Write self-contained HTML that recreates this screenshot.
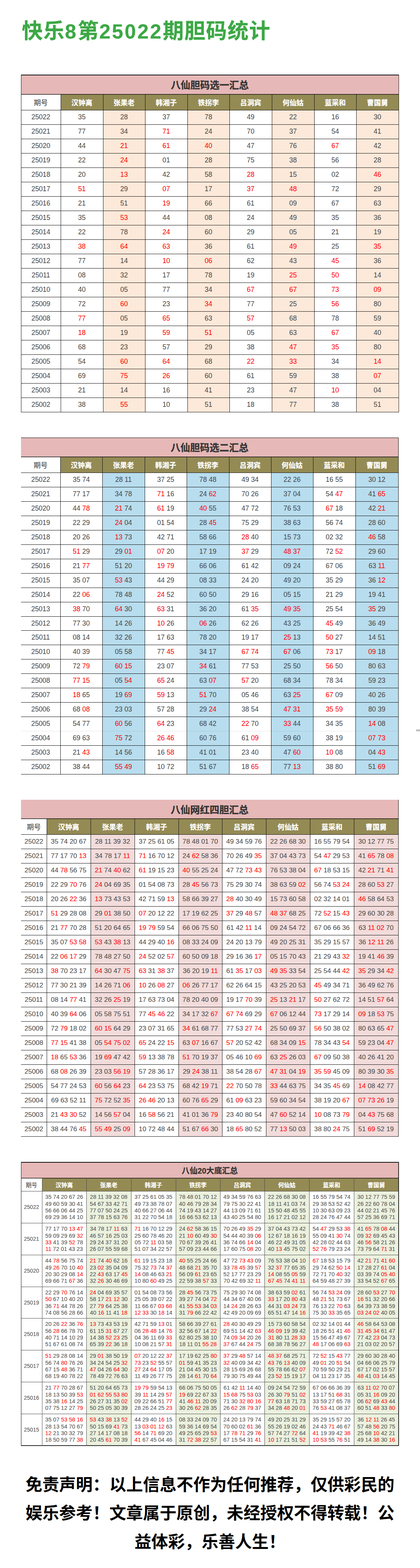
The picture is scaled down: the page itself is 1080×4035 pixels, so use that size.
<!DOCTYPE html>
<html lang="zh-CN"><head><meta charset="utf-8"><title>快乐8第25022期胆码统计</title>
<style>
html,body{margin:0;padding:0;background:#fff;}
body{width:1080px;height:4035px;position:relative;overflow:hidden;font-family:"Liberation Sans","Noto Sans CJK SC",sans-serif;color:#333;}
.title{-webkit-text-stroke:0.3px #3ca845;position:absolute;left:56px;top:40px;height:80px;width:700px;line-height:80px;font-size:54px;font-weight:bold;color:#3ca845;letter-spacing:1.5px;white-space:nowrap;}
.title b{font-size:52px;letter-spacing:3.75px;top:1px;}
.title>*{position:absolute;top:0;}
.tt .a{position:absolute;top:0;padding-top:inherit;}
.tb{position:absolute;}
.tb div{position:absolute;box-sizing:border-box;}
.tt{background:#e6b8b7;-webkit-text-stroke:0.4px #333;padding-top:2px;text-align:center;font-weight:bold;font-size:25px;color:#333;}
.hd{padding-top:1.5px;background:#948a54;color:#fff;-webkit-text-stroke:0.3px #fff;text-align:center;font-weight:bold;font-size:18px;}
.hd0{padding-top:1.5px;background:#fff;text-align:center;font-size:18px;color:#333;}
.c{display:flex;align-items:center;justify-content:center;font-size:17.5px;color:#474747;white-space:nowrap;}
.c i{font-style:normal;color:#ff0000;}
.hl{left:0;height:1px;background:#111;}
.vl{width:1px;background:#111;}
.t3 .c{font-size:17.3px;}
.t4 .tt{font-size:20.3px;-webkit-text-stroke-width:0.3px;padding-top:3px;}
.t4 .hd,.t4 .hd0{font-size:14.8px;padding-top:2px;}
.t4 .hd{-webkit-text-stroke-width:0.25px;}
.t4 .c{font-size:14.6px;line-height:17.3px;text-align:center;padding-top:2px;}
.t4 .p{font-size:14px;}
.foot{position:absolute;left:0;top:3784.5px;width:1080px;text-align:center;font-size:43.12px;font-weight:bold;color:#000;line-height:73.5px;white-space:nowrap;}
.sb{position:absolute;left:1070px;top:1877px;width:10px;height:5px;background:#c0c0c0;}
.t4 .in{background:#4d4d4d;}
.t4 .c{color:#4a4a4a;}
</style></head>
<body>
<div class="title"><span style="left:0">快乐</span><b style="left:111px">8</b><span style="left:143.67px">第</span><b style="left:199.17px">25022</b><span style="left:362.53px">期胆码统计</span></div>
<div class="tb t1" style="left:54px;top:192px;width:972px;height:869px">
<div class="tt" style="left:0;top:0;width:971px;height:50px;line-height:50px"><span>八仙胆码选一汇总</span></div>
<div class="hd0" style="left:0;top:50px;width:102px;height:41px;line-height:42px"><span>期号</span></div>
<div class="hd" style="left:102px;top:50px;width:109px;height:41px;line-height:42px"><span>汉钟离</span></div>
<div class="hd" style="left:211px;top:50px;width:108px;height:41px;line-height:42px"><span>张果老</span></div>
<div class="hd" style="left:319px;top:50px;width:109px;height:41px;line-height:42px"><span>韩湘子</span></div>
<div class="hd" style="left:428px;top:50px;width:108px;height:41px;line-height:42px"><span>铁拐李</span></div>
<div class="hd" style="left:536px;top:50px;width:109px;height:41px;line-height:42px"><span>吕洞宾</span></div>
<div class="hd" style="left:645px;top:50px;width:109px;height:41px;line-height:42px"><span>何仙姑</span></div>
<div class="hd" style="left:754px;top:50px;width:108px;height:41px;line-height:42px"><span>蓝采和</span></div>
<div class="hd" style="left:862px;top:50px;width:109px;height:41px;line-height:42px"><span>曹国舅</span></div>
<div class="st" style="left:211px;top:91px;width:108px;height:777px;background:#fde9d9"></div>
<div class="st" style="left:428px;top:91px;width:108px;height:777px;background:#fde9d9"></div>
<div class="st" style="left:645px;top:91px;width:109px;height:777px;background:#fde9d9"></div>
<div class="st" style="left:862px;top:91px;width:109px;height:777px;background:#fde9d9"></div>
<div class="c p" style="left:0;top:91px;width:102px;height:37px"><span>25022</span></div>
<div class="c" style="left:102px;top:91px;width:109px;height:37px"><span>35</span></div>
<div class="c" style="left:211px;top:91px;width:108px;height:37px"><span>28</span></div>
<div class="c" style="left:319px;top:91px;width:109px;height:37px"><span>37</span></div>
<div class="c" style="left:428px;top:91px;width:108px;height:37px"><span>78</span></div>
<div class="c" style="left:536px;top:91px;width:109px;height:37px"><span>49</span></div>
<div class="c" style="left:645px;top:91px;width:109px;height:37px"><span>22</span></div>
<div class="c" style="left:754px;top:91px;width:108px;height:37px"><span>16</span></div>
<div class="c" style="left:862px;top:91px;width:109px;height:37px"><span>30</span></div>
<div class="c p" style="left:0;top:128px;width:102px;height:37px"><span>25021</span></div>
<div class="c" style="left:102px;top:128px;width:109px;height:37px"><span>77</span></div>
<div class="c" style="left:211px;top:128px;width:108px;height:37px"><span>34</span></div>
<div class="c" style="left:319px;top:128px;width:109px;height:37px"><span><i>71</i></span></div>
<div class="c" style="left:428px;top:128px;width:108px;height:37px"><span>24</span></div>
<div class="c" style="left:536px;top:128px;width:109px;height:37px"><span>70</span></div>
<div class="c" style="left:645px;top:128px;width:109px;height:37px"><span>37</span></div>
<div class="c" style="left:754px;top:128px;width:108px;height:37px"><span>54</span></div>
<div class="c" style="left:862px;top:128px;width:109px;height:37px"><span>41</span></div>
<div class="c p" style="left:0;top:165px;width:102px;height:37px"><span>25020</span></div>
<div class="c" style="left:102px;top:165px;width:109px;height:37px"><span>44</span></div>
<div class="c" style="left:211px;top:165px;width:108px;height:37px"><span><i>21</i></span></div>
<div class="c" style="left:319px;top:165px;width:109px;height:37px"><span><i>61</i></span></div>
<div class="c" style="left:428px;top:165px;width:108px;height:37px"><span><i>40</i></span></div>
<div class="c" style="left:536px;top:165px;width:109px;height:37px"><span>47</span></div>
<div class="c" style="left:645px;top:165px;width:109px;height:37px"><span>76</span></div>
<div class="c" style="left:754px;top:165px;width:108px;height:37px"><span><i>67</i></span></div>
<div class="c" style="left:862px;top:165px;width:109px;height:37px"><span>42</span></div>
<div class="c p" style="left:0;top:202px;width:102px;height:37px"><span>25019</span></div>
<div class="c" style="left:102px;top:202px;width:109px;height:37px"><span>22</span></div>
<div class="c" style="left:211px;top:202px;width:108px;height:37px"><span><i>24</i></span></div>
<div class="c" style="left:319px;top:202px;width:109px;height:37px"><span>01</span></div>
<div class="c" style="left:428px;top:202px;width:108px;height:37px"><span>28</span></div>
<div class="c" style="left:536px;top:202px;width:109px;height:37px"><span>75</span></div>
<div class="c" style="left:645px;top:202px;width:109px;height:37px"><span>38</span></div>
<div class="c" style="left:754px;top:202px;width:108px;height:37px"><span>56</span></div>
<div class="c" style="left:862px;top:202px;width:109px;height:37px"><span>28</span></div>
<div class="c p" style="left:0;top:239px;width:102px;height:37px"><span>25018</span></div>
<div class="c" style="left:102px;top:239px;width:109px;height:37px"><span>20</span></div>
<div class="c" style="left:211px;top:239px;width:108px;height:37px"><span><i>13</i></span></div>
<div class="c" style="left:319px;top:239px;width:109px;height:37px"><span>42</span></div>
<div class="c" style="left:428px;top:239px;width:108px;height:37px"><span>58</span></div>
<div class="c" style="left:536px;top:239px;width:109px;height:37px"><span><i>28</i></span></div>
<div class="c" style="left:645px;top:239px;width:109px;height:37px"><span>15</span></div>
<div class="c" style="left:754px;top:239px;width:108px;height:37px"><span>02</span></div>
<div class="c" style="left:862px;top:239px;width:109px;height:37px"><span><i>46</i></span></div>
<div class="c p" style="left:0;top:276px;width:102px;height:37px"><span>25017</span></div>
<div class="c" style="left:102px;top:276px;width:109px;height:37px"><span><i>51</i></span></div>
<div class="c" style="left:211px;top:276px;width:108px;height:37px"><span>29</span></div>
<div class="c" style="left:319px;top:276px;width:109px;height:37px"><span><i>07</i></span></div>
<div class="c" style="left:428px;top:276px;width:108px;height:37px"><span>17</span></div>
<div class="c" style="left:536px;top:276px;width:109px;height:37px"><span><i>37</i></span></div>
<div class="c" style="left:645px;top:276px;width:109px;height:37px"><span><i>48</i></span></div>
<div class="c" style="left:754px;top:276px;width:108px;height:37px"><span>72</span></div>
<div class="c" style="left:862px;top:276px;width:109px;height:37px"><span>29</span></div>
<div class="c p" style="left:0;top:313px;width:102px;height:37px"><span>25016</span></div>
<div class="c" style="left:102px;top:313px;width:109px;height:37px"><span>21</span></div>
<div class="c" style="left:211px;top:313px;width:108px;height:37px"><span>51</span></div>
<div class="c" style="left:319px;top:313px;width:109px;height:37px"><span><i>19</i></span></div>
<div class="c" style="left:428px;top:313px;width:108px;height:37px"><span>66</span></div>
<div class="c" style="left:536px;top:313px;width:109px;height:37px"><span>61</span></div>
<div class="c" style="left:645px;top:313px;width:109px;height:37px"><span>09</span></div>
<div class="c" style="left:754px;top:313px;width:108px;height:37px"><span>67</span></div>
<div class="c" style="left:862px;top:313px;width:109px;height:37px"><span>63</span></div>
<div class="c p" style="left:0;top:350px;width:102px;height:37px"><span>25015</span></div>
<div class="c" style="left:102px;top:350px;width:109px;height:37px"><span>35</span></div>
<div class="c" style="left:211px;top:350px;width:108px;height:37px"><span><i>53</i></span></div>
<div class="c" style="left:319px;top:350px;width:109px;height:37px"><span>44</span></div>
<div class="c" style="left:428px;top:350px;width:108px;height:37px"><span>08</span></div>
<div class="c" style="left:536px;top:350px;width:109px;height:37px"><span>24</span></div>
<div class="c" style="left:645px;top:350px;width:109px;height:37px"><span>49</span></div>
<div class="c" style="left:754px;top:350px;width:108px;height:37px"><span>35</span></div>
<div class="c" style="left:862px;top:350px;width:109px;height:37px"><span>36</span></div>
<div class="c p" style="left:0;top:387px;width:102px;height:37px"><span>25014</span></div>
<div class="c" style="left:102px;top:387px;width:109px;height:37px"><span>22</span></div>
<div class="c" style="left:211px;top:387px;width:108px;height:37px"><span>78</span></div>
<div class="c" style="left:319px;top:387px;width:109px;height:37px"><span><i>24</i></span></div>
<div class="c" style="left:428px;top:387px;width:108px;height:37px"><span>60</span></div>
<div class="c" style="left:536px;top:387px;width:109px;height:37px"><span>29</span></div>
<div class="c" style="left:645px;top:387px;width:109px;height:37px"><span>05</span></div>
<div class="c" style="left:754px;top:387px;width:108px;height:37px"><span>21</span></div>
<div class="c" style="left:862px;top:387px;width:109px;height:37px"><span>19</span></div>
<div class="c p" style="left:0;top:424px;width:102px;height:37px"><span>25013</span></div>
<div class="c" style="left:102px;top:424px;width:109px;height:37px"><span><i>38</i></span></div>
<div class="c" style="left:211px;top:424px;width:108px;height:37px"><span><i>64</i></span></div>
<div class="c" style="left:319px;top:424px;width:109px;height:37px"><span><i>63</i></span></div>
<div class="c" style="left:428px;top:424px;width:108px;height:37px"><span>36</span></div>
<div class="c" style="left:536px;top:424px;width:109px;height:37px"><span>61</span></div>
<div class="c" style="left:645px;top:424px;width:109px;height:37px"><span><i>49</i></span></div>
<div class="c" style="left:754px;top:424px;width:108px;height:37px"><span>25</span></div>
<div class="c" style="left:862px;top:424px;width:109px;height:37px"><span><i>35</i></span></div>
<div class="c p" style="left:0;top:461px;width:102px;height:37px"><span>25012</span></div>
<div class="c" style="left:102px;top:461px;width:109px;height:37px"><span>77</span></div>
<div class="c" style="left:211px;top:461px;width:108px;height:37px"><span>14</span></div>
<div class="c" style="left:319px;top:461px;width:109px;height:37px"><span><i>10</i></span></div>
<div class="c" style="left:428px;top:461px;width:108px;height:37px"><span><i>06</i></span></div>
<div class="c" style="left:536px;top:461px;width:109px;height:37px"><span>62</span></div>
<div class="c" style="left:645px;top:461px;width:109px;height:37px"><span>43</span></div>
<div class="c" style="left:754px;top:461px;width:108px;height:37px"><span><i>45</i></span></div>
<div class="c" style="left:862px;top:461px;width:109px;height:37px"><span>36</span></div>
<div class="c p" style="left:0;top:498px;width:102px;height:37px"><span>25011</span></div>
<div class="c" style="left:102px;top:498px;width:109px;height:37px"><span>08</span></div>
<div class="c" style="left:211px;top:498px;width:108px;height:37px"><span>32</span></div>
<div class="c" style="left:319px;top:498px;width:109px;height:37px"><span>17</span></div>
<div class="c" style="left:428px;top:498px;width:108px;height:37px"><span>78</span></div>
<div class="c" style="left:536px;top:498px;width:109px;height:37px"><span>19</span></div>
<div class="c" style="left:645px;top:498px;width:109px;height:37px"><span><i>25</i></span></div>
<div class="c" style="left:754px;top:498px;width:108px;height:37px"><span><i>50</i></span></div>
<div class="c" style="left:862px;top:498px;width:109px;height:37px"><span>14</span></div>
<div class="c p" style="left:0;top:535px;width:102px;height:37px"><span>25010</span></div>
<div class="c" style="left:102px;top:535px;width:109px;height:37px"><span>40</span></div>
<div class="c" style="left:211px;top:535px;width:108px;height:37px"><span>05</span></div>
<div class="c" style="left:319px;top:535px;width:109px;height:37px"><span>77</span></div>
<div class="c" style="left:428px;top:535px;width:108px;height:37px"><span>34</span></div>
<div class="c" style="left:536px;top:535px;width:109px;height:37px"><span><i>67</i></span></div>
<div class="c" style="left:645px;top:535px;width:109px;height:37px"><span><i>67</i></span></div>
<div class="c" style="left:754px;top:535px;width:108px;height:37px"><span><i>73</i></span></div>
<div class="c" style="left:862px;top:535px;width:109px;height:37px"><span><i>09</i></span></div>
<div class="c p" style="left:0;top:572px;width:102px;height:37px"><span>25009</span></div>
<div class="c" style="left:102px;top:572px;width:109px;height:37px"><span>72</span></div>
<div class="c" style="left:211px;top:572px;width:108px;height:37px"><span><i>60</i></span></div>
<div class="c" style="left:319px;top:572px;width:109px;height:37px"><span>23</span></div>
<div class="c" style="left:428px;top:572px;width:108px;height:37px"><span><i>34</i></span></div>
<div class="c" style="left:536px;top:572px;width:109px;height:37px"><span>77</span></div>
<div class="c" style="left:645px;top:572px;width:109px;height:37px"><span>25</span></div>
<div class="c" style="left:754px;top:572px;width:108px;height:37px"><span><i>56</i></span></div>
<div class="c" style="left:862px;top:572px;width:109px;height:37px"><span>80</span></div>
<div class="c p" style="left:0;top:609px;width:102px;height:37px"><span>25008</span></div>
<div class="c" style="left:102px;top:609px;width:109px;height:37px"><span><i>77</i></span></div>
<div class="c" style="left:211px;top:609px;width:108px;height:37px"><span>05</span></div>
<div class="c" style="left:319px;top:609px;width:109px;height:37px"><span><i>65</i></span></div>
<div class="c" style="left:428px;top:609px;width:108px;height:37px"><span>63</span></div>
<div class="c" style="left:536px;top:609px;width:109px;height:37px"><span><i>57</i></span></div>
<div class="c" style="left:645px;top:609px;width:109px;height:37px"><span>68</span></div>
<div class="c" style="left:754px;top:609px;width:108px;height:37px"><span>78</span></div>
<div class="c" style="left:862px;top:609px;width:109px;height:37px"><span>59</span></div>
<div class="c p" style="left:0;top:646px;width:102px;height:37px"><span>25007</span></div>
<div class="c" style="left:102px;top:646px;width:109px;height:37px"><span><i>18</i></span></div>
<div class="c" style="left:211px;top:646px;width:108px;height:37px"><span>19</span></div>
<div class="c" style="left:319px;top:646px;width:109px;height:37px"><span><i>59</i></span></div>
<div class="c" style="left:428px;top:646px;width:108px;height:37px"><span><i>51</i></span></div>
<div class="c" style="left:536px;top:646px;width:109px;height:37px"><span>05</span></div>
<div class="c" style="left:645px;top:646px;width:109px;height:37px"><span>63</span></div>
<div class="c" style="left:754px;top:646px;width:108px;height:37px"><span><i>67</i></span></div>
<div class="c" style="left:862px;top:646px;width:109px;height:37px"><span>40</span></div>
<div class="c p" style="left:0;top:683px;width:102px;height:37px"><span>25006</span></div>
<div class="c" style="left:102px;top:683px;width:109px;height:37px"><span>68</span></div>
<div class="c" style="left:211px;top:683px;width:108px;height:37px"><span>23</span></div>
<div class="c" style="left:319px;top:683px;width:109px;height:37px"><span>57</span></div>
<div class="c" style="left:428px;top:683px;width:108px;height:37px"><span>29</span></div>
<div class="c" style="left:536px;top:683px;width:109px;height:37px"><span>38</span></div>
<div class="c" style="left:645px;top:683px;width:109px;height:37px"><span><i>47</i></span></div>
<div class="c" style="left:754px;top:683px;width:108px;height:37px"><span><i>35</i></span></div>
<div class="c" style="left:862px;top:683px;width:109px;height:37px"><span>80</span></div>
<div class="c p" style="left:0;top:720px;width:102px;height:37px"><span>25005</span></div>
<div class="c" style="left:102px;top:720px;width:109px;height:37px"><span>54</span></div>
<div class="c" style="left:211px;top:720px;width:108px;height:37px"><span><i>60</i></span></div>
<div class="c" style="left:319px;top:720px;width:109px;height:37px"><span><i>64</i></span></div>
<div class="c" style="left:428px;top:720px;width:108px;height:37px"><span>68</span></div>
<div class="c" style="left:536px;top:720px;width:109px;height:37px"><span><i>22</i></span></div>
<div class="c" style="left:645px;top:720px;width:109px;height:37px"><span><i>33</i></span></div>
<div class="c" style="left:754px;top:720px;width:108px;height:37px"><span>34</span></div>
<div class="c" style="left:862px;top:720px;width:109px;height:37px"><span><i>14</i></span></div>
<div class="c p" style="left:0;top:757px;width:102px;height:37px"><span>25004</span></div>
<div class="c" style="left:102px;top:757px;width:109px;height:37px"><span>69</span></div>
<div class="c" style="left:211px;top:757px;width:108px;height:37px"><span><i>75</i></span></div>
<div class="c" style="left:319px;top:757px;width:109px;height:37px"><span><i>26</i></span></div>
<div class="c" style="left:428px;top:757px;width:108px;height:37px"><span>60</span></div>
<div class="c" style="left:536px;top:757px;width:109px;height:37px"><span>61</span></div>
<div class="c" style="left:645px;top:757px;width:109px;height:37px"><span>59</span></div>
<div class="c" style="left:754px;top:757px;width:108px;height:37px"><span>38</span></div>
<div class="c" style="left:862px;top:757px;width:109px;height:37px"><span><i>07</i></span></div>
<div class="c p" style="left:0;top:794px;width:102px;height:37px"><span>25003</span></div>
<div class="c" style="left:102px;top:794px;width:109px;height:37px"><span>21</span></div>
<div class="c" style="left:211px;top:794px;width:108px;height:37px"><span>14</span></div>
<div class="c" style="left:319px;top:794px;width:109px;height:37px"><span>16</span></div>
<div class="c" style="left:428px;top:794px;width:108px;height:37px"><span>41</span></div>
<div class="c" style="left:536px;top:794px;width:109px;height:37px"><span>23</span></div>
<div class="c" style="left:645px;top:794px;width:109px;height:37px"><span>47</span></div>
<div class="c" style="left:754px;top:794px;width:108px;height:37px"><span><i>10</i></span></div>
<div class="c" style="left:862px;top:794px;width:109px;height:37px"><span>04</span></div>
<div class="c p" style="left:0;top:831px;width:102px;height:37px"><span>25002</span></div>
<div class="c" style="left:102px;top:831px;width:109px;height:37px"><span>38</span></div>
<div class="c" style="left:211px;top:831px;width:108px;height:37px"><span><i>55</i></span></div>
<div class="c" style="left:319px;top:831px;width:109px;height:37px"><span>10</span></div>
<div class="c" style="left:428px;top:831px;width:108px;height:37px"><span>51</span></div>
<div class="c" style="left:536px;top:831px;width:109px;height:37px"><span>18</span></div>
<div class="c" style="left:645px;top:831px;width:109px;height:37px"><span>77</span></div>
<div class="c" style="left:754px;top:831px;width:108px;height:37px"><span>38</span></div>
<div class="c" style="left:862px;top:831px;width:109px;height:37px"><span>51</span></div>
<div class="hl" style="top:0px;width:972px;height:2px"></div>
<div class="hl" style="top:50px;width:972px;box-shadow:0 1px 0 rgba(0,0,0,0.4)"></div>
<div class="hl in" style="top:91px;width:972px"></div>
<div class="hl in" style="top:128px;width:972px"></div>
<div class="hl in" style="top:165px;width:972px"></div>
<div class="hl in" style="top:202px;width:972px"></div>
<div class="hl in" style="top:239px;width:972px"></div>
<div class="hl in" style="top:276px;width:972px"></div>
<div class="hl in" style="top:313px;width:972px"></div>
<div class="hl in" style="top:350px;width:972px"></div>
<div class="hl in" style="top:387px;width:972px"></div>
<div class="hl in" style="top:424px;width:972px"></div>
<div class="hl in" style="top:461px;width:972px"></div>
<div class="hl in" style="top:498px;width:972px"></div>
<div class="hl in" style="top:535px;width:972px"></div>
<div class="hl in" style="top:572px;width:972px"></div>
<div class="hl in" style="top:609px;width:972px"></div>
<div class="hl in" style="top:646px;width:972px"></div>
<div class="hl in" style="top:683px;width:972px"></div>
<div class="hl in" style="top:720px;width:972px"></div>
<div class="hl in" style="top:757px;width:972px"></div>
<div class="hl in" style="top:794px;width:972px"></div>
<div class="hl in" style="top:831px;width:972px"></div>
<div class="hl" style="top:868px;width:972px"></div>
<div class="vl" style="left:0;top:0;height:869px"></div>
<div class="vl in" style="left:102px;top:50px;height:819px"></div>
<div class="vl in" style="left:211px;top:50px;height:819px"></div>
<div class="vl in" style="left:319px;top:50px;height:819px"></div>
<div class="vl in" style="left:428px;top:50px;height:819px"></div>
<div class="vl in" style="left:536px;top:50px;height:819px"></div>
<div class="vl in" style="left:645px;top:50px;height:819px"></div>
<div class="vl in" style="left:754px;top:50px;height:819px"></div>
<div class="vl in" style="left:862px;top:50px;height:819px"></div>
<div class="vl" style="left:971px;top:0;height:869px"></div>
</div>
<div class="tb t2" style="left:54px;top:1126px;width:971px;height:867px">
<div class="tt" style="left:0;top:0;width:970px;height:49px;line-height:49px"><span>八仙胆码选二汇总</span></div>
<div class="hd0" style="left:0;top:49px;width:101px;height:41px;line-height:42px"><span>期号</span></div>
<div class="hd" style="left:101px;top:49px;width:108px;height:41px;line-height:42px"><span>汉钟离</span></div>
<div class="hd" style="left:209px;top:49px;width:109px;height:41px;line-height:42px"><span>张果老</span></div>
<div class="hd" style="left:318px;top:49px;width:108px;height:41px;line-height:42px"><span>韩湘子</span></div>
<div class="hd" style="left:426px;top:49px;width:109px;height:41px;line-height:42px"><span>铁拐李</span></div>
<div class="hd" style="left:535px;top:49px;width:108px;height:41px;line-height:42px"><span>吕洞宾</span></div>
<div class="hd" style="left:643px;top:49px;width:108px;height:41px;line-height:42px"><span>何仙姑</span></div>
<div class="hd" style="left:751px;top:49px;width:109px;height:41px;line-height:42px"><span>蓝采和</span></div>
<div class="hd" style="left:860px;top:49px;width:110px;height:41px;line-height:42px"><span>曹国舅</span></div>
<div class="st" style="left:209px;top:90px;width:109px;height:776px;background:#b8ddee"></div>
<div class="st" style="left:426px;top:90px;width:109px;height:776px;background:#b8ddee"></div>
<div class="st" style="left:643px;top:90px;width:108px;height:776px;background:#b8ddee"></div>
<div class="st" style="left:860px;top:90px;width:110px;height:776px;background:#b8ddee"></div>
<div class="c p" style="left:0;top:90px;width:101px;height:37px"><span>25022</span></div>
<div class="c" style="left:101px;top:90px;width:108px;height:37px"><span>35 74</span></div>
<div class="c" style="left:209px;top:90px;width:109px;height:37px"><span>28 11</span></div>
<div class="c" style="left:318px;top:90px;width:108px;height:37px"><span>37 25</span></div>
<div class="c" style="left:426px;top:90px;width:109px;height:37px"><span>78 48</span></div>
<div class="c" style="left:535px;top:90px;width:108px;height:37px"><span>49 34</span></div>
<div class="c" style="left:643px;top:90px;width:108px;height:37px"><span>22 26</span></div>
<div class="c" style="left:751px;top:90px;width:109px;height:37px"><span>16 55</span></div>
<div class="c" style="left:860px;top:90px;width:110px;height:37px"><span>30 12</span></div>
<div class="c p" style="left:0;top:127px;width:101px;height:37px"><span>25021</span></div>
<div class="c" style="left:101px;top:127px;width:108px;height:37px"><span>77 17</span></div>
<div class="c" style="left:209px;top:127px;width:109px;height:37px"><span>34 78</span></div>
<div class="c" style="left:318px;top:127px;width:108px;height:37px"><span><i>71</i> 16</span></div>
<div class="c" style="left:426px;top:127px;width:109px;height:37px"><span>24 <i>62</i></span></div>
<div class="c" style="left:535px;top:127px;width:108px;height:37px"><span>70 26</span></div>
<div class="c" style="left:643px;top:127px;width:108px;height:37px"><span>37 04</span></div>
<div class="c" style="left:751px;top:127px;width:109px;height:37px"><span>54 <i>47</i></span></div>
<div class="c" style="left:860px;top:127px;width:110px;height:37px"><span>41 <i>65</i></span></div>
<div class="c p" style="left:0;top:164px;width:101px;height:37px"><span>25020</span></div>
<div class="c" style="left:101px;top:164px;width:108px;height:37px"><span>44 <i>78</i></span></div>
<div class="c" style="left:209px;top:164px;width:109px;height:37px"><span><i>21</i> 74</span></div>
<div class="c" style="left:318px;top:164px;width:108px;height:37px"><span><i>61</i> 19</span></div>
<div class="c" style="left:426px;top:164px;width:109px;height:37px"><span><i>40</i> 55</span></div>
<div class="c" style="left:535px;top:164px;width:108px;height:37px"><span>47 72</span></div>
<div class="c" style="left:643px;top:164px;width:108px;height:37px"><span>76 53</span></div>
<div class="c" style="left:751px;top:164px;width:109px;height:37px"><span><i>67</i> 18</span></div>
<div class="c" style="left:860px;top:164px;width:110px;height:37px"><span>42 <i>21</i></span></div>
<div class="c p" style="left:0;top:201px;width:101px;height:37px"><span>25019</span></div>
<div class="c" style="left:101px;top:201px;width:108px;height:37px"><span>22 29</span></div>
<div class="c" style="left:209px;top:201px;width:109px;height:37px"><span><i>24</i> 04</span></div>
<div class="c" style="left:318px;top:201px;width:108px;height:37px"><span>01 54</span></div>
<div class="c" style="left:426px;top:201px;width:109px;height:37px"><span>28 <i>45</i></span></div>
<div class="c" style="left:535px;top:201px;width:108px;height:37px"><span>75 29</span></div>
<div class="c" style="left:643px;top:201px;width:108px;height:37px"><span>38 63</span></div>
<div class="c" style="left:751px;top:201px;width:109px;height:37px"><span>56 74</span></div>
<div class="c" style="left:860px;top:201px;width:110px;height:37px"><span>28 60</span></div>
<div class="c p" style="left:0;top:238px;width:101px;height:37px"><span>25018</span></div>
<div class="c" style="left:101px;top:238px;width:108px;height:37px"><span>20 26</span></div>
<div class="c" style="left:209px;top:238px;width:109px;height:37px"><span><i>13</i> 73</span></div>
<div class="c" style="left:318px;top:238px;width:108px;height:37px"><span>42 71</span></div>
<div class="c" style="left:426px;top:238px;width:109px;height:37px"><span>58 66</span></div>
<div class="c" style="left:535px;top:238px;width:108px;height:37px"><span><i>28</i> 40</span></div>
<div class="c" style="left:643px;top:238px;width:108px;height:37px"><span>15 73</span></div>
<div class="c" style="left:751px;top:238px;width:109px;height:37px"><span>02 32</span></div>
<div class="c" style="left:860px;top:238px;width:110px;height:37px"><span><i>46</i> 58</span></div>
<div class="c p" style="left:0;top:275px;width:101px;height:37px"><span>25017</span></div>
<div class="c" style="left:101px;top:275px;width:108px;height:37px"><span><i>51</i> 29</span></div>
<div class="c" style="left:209px;top:275px;width:109px;height:37px"><span>29 <i>01</i></span></div>
<div class="c" style="left:318px;top:275px;width:108px;height:37px"><span><i>07</i> 20</span></div>
<div class="c" style="left:426px;top:275px;width:109px;height:37px"><span>17 19</span></div>
<div class="c" style="left:535px;top:275px;width:108px;height:37px"><span><i>37</i> 29</span></div>
<div class="c" style="left:643px;top:275px;width:108px;height:37px"><span><i>48</i> <i>37</i></span></div>
<div class="c" style="left:751px;top:275px;width:109px;height:37px"><span>72 <i>52</i></span></div>
<div class="c" style="left:860px;top:275px;width:110px;height:37px"><span>29 60</span></div>
<div class="c p" style="left:0;top:312px;width:101px;height:37px"><span>25016</span></div>
<div class="c" style="left:101px;top:312px;width:108px;height:37px"><span>21 <i>77</i></span></div>
<div class="c" style="left:209px;top:312px;width:109px;height:37px"><span>51 20</span></div>
<div class="c" style="left:318px;top:312px;width:108px;height:37px"><span><i>19</i> <i>79</i></span></div>
<div class="c" style="left:426px;top:312px;width:109px;height:37px"><span>66 06</span></div>
<div class="c" style="left:535px;top:312px;width:108px;height:37px"><span>61 42</span></div>
<div class="c" style="left:643px;top:312px;width:108px;height:37px"><span>09 24</span></div>
<div class="c" style="left:751px;top:312px;width:109px;height:37px"><span>67 06</span></div>
<div class="c" style="left:860px;top:312px;width:110px;height:37px"><span>63 <i>11</i></span></div>
<div class="c p" style="left:0;top:349px;width:101px;height:37px"><span>25015</span></div>
<div class="c" style="left:101px;top:349px;width:108px;height:37px"><span>35 07</span></div>
<div class="c" style="left:209px;top:349px;width:109px;height:37px"><span><i>53</i> 43</span></div>
<div class="c" style="left:318px;top:349px;width:108px;height:37px"><span>44 29</span></div>
<div class="c" style="left:426px;top:349px;width:109px;height:37px"><span>08 33</span></div>
<div class="c" style="left:535px;top:349px;width:108px;height:37px"><span>24 20</span></div>
<div class="c" style="left:643px;top:349px;width:108px;height:37px"><span>49 20</span></div>
<div class="c" style="left:751px;top:349px;width:109px;height:37px"><span>35 29</span></div>
<div class="c" style="left:860px;top:349px;width:110px;height:37px"><span>36 <i>12</i></span></div>
<div class="c p" style="left:0;top:386px;width:101px;height:37px"><span>25014</span></div>
<div class="c" style="left:101px;top:386px;width:108px;height:37px"><span>22 <i>06</i></span></div>
<div class="c" style="left:209px;top:386px;width:109px;height:37px"><span>78 48</span></div>
<div class="c" style="left:318px;top:386px;width:108px;height:37px"><span><i>24</i> 52</span></div>
<div class="c" style="left:426px;top:386px;width:109px;height:37px"><span>60 50</span></div>
<div class="c" style="left:535px;top:386px;width:108px;height:37px"><span>29 16</span></div>
<div class="c" style="left:643px;top:386px;width:108px;height:37px"><span>05 15</span></div>
<div class="c" style="left:751px;top:386px;width:109px;height:37px"><span>21 29</span></div>
<div class="c" style="left:860px;top:386px;width:110px;height:37px"><span>19 41</span></div>
<div class="c p" style="left:0;top:423px;width:101px;height:37px"><span>25013</span></div>
<div class="c" style="left:101px;top:423px;width:108px;height:37px"><span><i>38</i> 70</span></div>
<div class="c" style="left:209px;top:423px;width:109px;height:37px"><span><i>64</i> 30</span></div>
<div class="c" style="left:318px;top:423px;width:108px;height:37px"><span><i>63</i> 31</span></div>
<div class="c" style="left:426px;top:423px;width:109px;height:37px"><span>36 20</span></div>
<div class="c" style="left:535px;top:423px;width:108px;height:37px"><span>61 <i>35</i></span></div>
<div class="c" style="left:643px;top:423px;width:108px;height:37px"><span><i>49</i> <i>35</i></span></div>
<div class="c" style="left:751px;top:423px;width:109px;height:37px"><span>25 54</span></div>
<div class="c" style="left:860px;top:423px;width:110px;height:37px"><span><i>35</i> 29</span></div>
<div class="c p" style="left:0;top:460px;width:101px;height:36px"><span>25012</span></div>
<div class="c" style="left:101px;top:460px;width:108px;height:36px"><span>77 30</span></div>
<div class="c" style="left:209px;top:460px;width:109px;height:36px"><span>14 26</span></div>
<div class="c" style="left:318px;top:460px;width:108px;height:36px"><span><i>10</i> 26</span></div>
<div class="c" style="left:426px;top:460px;width:109px;height:36px"><span><i>06</i> 26</span></div>
<div class="c" style="left:535px;top:460px;width:108px;height:36px"><span>62 26</span></div>
<div class="c" style="left:643px;top:460px;width:108px;height:36px"><span>43 25</span></div>
<div class="c" style="left:751px;top:460px;width:109px;height:36px"><span><i>45</i> 49</span></div>
<div class="c" style="left:860px;top:460px;width:110px;height:36px"><span>36 49</span></div>
<div class="c p" style="left:0;top:496px;width:101px;height:37px"><span>25011</span></div>
<div class="c" style="left:101px;top:496px;width:108px;height:37px"><span>08 14</span></div>
<div class="c" style="left:209px;top:496px;width:109px;height:37px"><span>32 26</span></div>
<div class="c" style="left:318px;top:496px;width:108px;height:37px"><span>17 63</span></div>
<div class="c" style="left:426px;top:496px;width:109px;height:37px"><span>78 20</span></div>
<div class="c" style="left:535px;top:496px;width:108px;height:37px"><span>19 17</span></div>
<div class="c" style="left:643px;top:496px;width:108px;height:37px"><span><i>25</i> 13</span></div>
<div class="c" style="left:751px;top:496px;width:109px;height:37px"><span><i>50</i> 27</span></div>
<div class="c" style="left:860px;top:496px;width:110px;height:37px"><span>14 51</span></div>
<div class="c p" style="left:0;top:533px;width:101px;height:37px"><span>25010</span></div>
<div class="c" style="left:101px;top:533px;width:108px;height:37px"><span>40 39</span></div>
<div class="c" style="left:209px;top:533px;width:109px;height:37px"><span>05 58</span></div>
<div class="c" style="left:318px;top:533px;width:108px;height:37px"><span>77 <i>45</i></span></div>
<div class="c" style="left:426px;top:533px;width:109px;height:37px"><span>34 17</span></div>
<div class="c" style="left:535px;top:533px;width:108px;height:37px"><span><i>67</i> <i>74</i></span></div>
<div class="c" style="left:643px;top:533px;width:108px;height:37px"><span><i>67</i> 06</span></div>
<div class="c" style="left:751px;top:533px;width:109px;height:37px"><span><i>73</i> 17</span></div>
<div class="c" style="left:860px;top:533px;width:110px;height:37px"><span><i>09</i> 18</span></div>
<div class="c p" style="left:0;top:570px;width:101px;height:37px"><span>25009</span></div>
<div class="c" style="left:101px;top:570px;width:108px;height:37px"><span>72 <i>79</i></span></div>
<div class="c" style="left:209px;top:570px;width:109px;height:37px"><span><i>60</i> <i>15</i></span></div>
<div class="c" style="left:318px;top:570px;width:108px;height:37px"><span>23 07</span></div>
<div class="c" style="left:426px;top:570px;width:109px;height:37px"><span><i>34</i> 61</span></div>
<div class="c" style="left:535px;top:570px;width:108px;height:37px"><span>77 53</span></div>
<div class="c" style="left:643px;top:570px;width:108px;height:37px"><span>25 50</span></div>
<div class="c" style="left:751px;top:570px;width:109px;height:37px"><span><i>56</i> 50</span></div>
<div class="c" style="left:860px;top:570px;width:110px;height:37px"><span>80 63</span></div>
<div class="c p" style="left:0;top:607px;width:101px;height:37px"><span>25008</span></div>
<div class="c" style="left:101px;top:607px;width:108px;height:37px"><span><i>77</i> <i>15</i></span></div>
<div class="c" style="left:209px;top:607px;width:109px;height:37px"><span>05 <i>54</i></span></div>
<div class="c" style="left:318px;top:607px;width:108px;height:37px"><span><i>65</i> 24</span></div>
<div class="c" style="left:426px;top:607px;width:109px;height:37px"><span>63 <i>07</i></span></div>
<div class="c" style="left:535px;top:607px;width:108px;height:37px"><span><i>57</i> 20</span></div>
<div class="c" style="left:643px;top:607px;width:108px;height:37px"><span>68 34</span></div>
<div class="c" style="left:751px;top:607px;width:109px;height:37px"><span>78 34</span></div>
<div class="c" style="left:860px;top:607px;width:110px;height:37px"><span>59 23</span></div>
<div class="c p" style="left:0;top:644px;width:101px;height:37px"><span>25007</span></div>
<div class="c" style="left:101px;top:644px;width:108px;height:37px"><span><i>18</i> 65</span></div>
<div class="c" style="left:209px;top:644px;width:109px;height:37px"><span>19 <i>69</i></span></div>
<div class="c" style="left:318px;top:644px;width:108px;height:37px"><span><i>59</i> 13</span></div>
<div class="c" style="left:426px;top:644px;width:109px;height:37px"><span><i>51</i> 70</span></div>
<div class="c" style="left:535px;top:644px;width:108px;height:37px"><span>05 46</span></div>
<div class="c" style="left:643px;top:644px;width:108px;height:37px"><span>63 <i>25</i></span></div>
<div class="c" style="left:751px;top:644px;width:109px;height:37px"><span><i>67</i> 09</span></div>
<div class="c" style="left:860px;top:644px;width:110px;height:37px"><span>40 26</span></div>
<div class="c p" style="left:0;top:681px;width:101px;height:37px"><span>25006</span></div>
<div class="c" style="left:101px;top:681px;width:108px;height:37px"><span>68 <i>08</i></span></div>
<div class="c" style="left:209px;top:681px;width:109px;height:37px"><span>23 03</span></div>
<div class="c" style="left:318px;top:681px;width:108px;height:37px"><span>57 28</span></div>
<div class="c" style="left:426px;top:681px;width:109px;height:37px"><span>29 <i>24</i></span></div>
<div class="c" style="left:535px;top:681px;width:108px;height:37px"><span>38 54</span></div>
<div class="c" style="left:643px;top:681px;width:108px;height:37px"><span><i>47</i> <i>31</i></span></div>
<div class="c" style="left:751px;top:681px;width:109px;height:37px"><span><i>35</i> <i>59</i></span></div>
<div class="c" style="left:860px;top:681px;width:110px;height:37px"><span>80 39</span></div>
<div class="c p" style="left:0;top:718px;width:101px;height:37px"><span>25005</span></div>
<div class="c" style="left:101px;top:718px;width:108px;height:37px"><span>54 77</span></div>
<div class="c" style="left:209px;top:718px;width:109px;height:37px"><span><i>60</i> 56</span></div>
<div class="c" style="left:318px;top:718px;width:108px;height:37px"><span><i>64</i> 23</span></div>
<div class="c" style="left:426px;top:718px;width:109px;height:37px"><span>68 42</span></div>
<div class="c" style="left:535px;top:718px;width:108px;height:37px"><span><i>22</i> 70</span></div>
<div class="c" style="left:643px;top:718px;width:108px;height:37px"><span><i>33</i> 44</span></div>
<div class="c" style="left:751px;top:718px;width:109px;height:37px"><span>34 35</span></div>
<div class="c" style="left:860px;top:718px;width:110px;height:37px"><span><i>14</i> 08</span></div>
<div class="c p" style="left:0;top:755px;width:101px;height:37px"><span>25004</span></div>
<div class="c" style="left:101px;top:755px;width:108px;height:37px"><span>69 63</span></div>
<div class="c" style="left:209px;top:755px;width:109px;height:37px"><span><i>75</i> 72</span></div>
<div class="c" style="left:318px;top:755px;width:108px;height:37px"><span><i>26</i> <i>46</i></span></div>
<div class="c" style="left:426px;top:755px;width:109px;height:37px"><span>60 76</span></div>
<div class="c" style="left:535px;top:755px;width:108px;height:37px"><span>61 <i>09</i></span></div>
<div class="c" style="left:643px;top:755px;width:108px;height:37px"><span>59 60</span></div>
<div class="c" style="left:751px;top:755px;width:109px;height:37px"><span>38 19</span></div>
<div class="c" style="left:860px;top:755px;width:110px;height:37px"><span><i>07</i> <i>73</i></span></div>
<div class="c p" style="left:0;top:792px;width:101px;height:37px"><span>25003</span></div>
<div class="c" style="left:101px;top:792px;width:108px;height:37px"><span>21 <i>43</i></span></div>
<div class="c" style="left:209px;top:792px;width:109px;height:37px"><span>14 56</span></div>
<div class="c" style="left:318px;top:792px;width:108px;height:37px"><span>16 <i>58</i></span></div>
<div class="c" style="left:426px;top:792px;width:109px;height:37px"><span>41 01</span></div>
<div class="c" style="left:535px;top:792px;width:108px;height:37px"><span>23 40</span></div>
<div class="c" style="left:643px;top:792px;width:108px;height:37px"><span>47 <i>60</i></span></div>
<div class="c" style="left:751px;top:792px;width:109px;height:37px"><span><i>10</i> 08</span></div>
<div class="c" style="left:860px;top:792px;width:110px;height:37px"><span>04 <i>43</i></span></div>
<div class="c p" style="left:0;top:829px;width:101px;height:37px"><span>25002</span></div>
<div class="c" style="left:101px;top:829px;width:108px;height:37px"><span>38 44</span></div>
<div class="c" style="left:209px;top:829px;width:109px;height:37px"><span><i>55</i> <i>49</i></span></div>
<div class="c" style="left:318px;top:829px;width:108px;height:37px"><span>10 72</span></div>
<div class="c" style="left:426px;top:829px;width:109px;height:37px"><span>51 67</span></div>
<div class="c" style="left:535px;top:829px;width:108px;height:37px"><span>18 <i>65</i></span></div>
<div class="c" style="left:643px;top:829px;width:108px;height:37px"><span>77 <i>13</i></span></div>
<div class="c" style="left:751px;top:829px;width:109px;height:37px"><span>38 80</span></div>
<div class="c" style="left:860px;top:829px;width:110px;height:37px"><span>51 <i>69</i></span></div>
<div class="hl" style="top:0px;width:971px"></div>
<div class="hl" style="top:49px;width:971px;box-shadow:0 1px 0 rgba(0,0,0,0.4)"></div>
<div class="hl in" style="top:90px;width:971px"></div>
<div class="hl in" style="top:127px;width:971px"></div>
<div class="hl in" style="top:164px;width:971px"></div>
<div class="hl in" style="top:201px;width:971px"></div>
<div class="hl in" style="top:238px;width:971px"></div>
<div class="hl in" style="top:275px;width:971px"></div>
<div class="hl in" style="top:312px;width:971px"></div>
<div class="hl in" style="top:349px;width:971px"></div>
<div class="hl in" style="top:386px;width:971px"></div>
<div class="hl in" style="top:423px;width:971px"></div>
<div class="hl in" style="top:460px;width:971px"></div>
<div class="hl in" style="top:496px;width:971px"></div>
<div class="hl in" style="top:533px;width:971px"></div>
<div class="hl in" style="top:570px;width:971px"></div>
<div class="hl in" style="top:607px;width:971px"></div>
<div class="hl in" style="top:644px;width:971px"></div>
<div class="hl in" style="top:681px;width:971px"></div>
<div class="hl in" style="top:718px;width:971px"></div>
<div class="hl in" style="top:755px;width:971px;background:rgba(0,0,0,0.09)"></div>
<div class="hl in" style="top:792px;width:971px"></div>
<div class="hl in" style="top:829px;width:971px"></div>
<div class="hl" style="top:866px;width:971px"></div>
<div class="vl in" style="left:101px;top:49px;height:818px"></div>
<div class="vl in" style="left:209px;top:49px;height:818px"></div>
<div class="vl in" style="left:318px;top:49px;height:818px"></div>
<div class="vl in" style="left:426px;top:49px;height:818px"></div>
<div class="vl in" style="left:535px;top:49px;height:818px"></div>
<div class="vl in" style="left:643px;top:49px;height:818px"></div>
<div class="vl in" style="left:751px;top:49px;height:818px"></div>
<div class="vl in" style="left:860px;top:49px;height:818px"></div>
<div class="vl" style="left:970px;top:0;height:867px"></div>
</div>
<div class="tb t3" style="left:54px;top:2058px;width:971px;height:867px">
<div class="tt" style="left:0;top:0;width:970px;height:48px;line-height:48px"><span>八仙网红四胆汇总</span></div>
<div class="hd0" style="left:0;top:48px;width:66px;height:41px;line-height:42px"><span>期号</span></div>
<div class="hd" style="left:66px;top:48px;width:113px;height:41px;line-height:42px"><span>汉钟离</span></div>
<div class="hd" style="left:179px;top:48px;width:113px;height:41px;line-height:42px"><span>张果老</span></div>
<div class="hd" style="left:292px;top:48px;width:113px;height:41px;line-height:42px"><span>韩湘子</span></div>
<div class="hd" style="left:405px;top:48px;width:112px;height:41px;line-height:42px"><span>铁拐李</span></div>
<div class="hd" style="left:517px;top:48px;width:113px;height:41px;line-height:42px"><span>吕洞宾</span></div>
<div class="hd" style="left:630px;top:48px;width:113px;height:41px;line-height:42px"><span>何仙姑</span></div>
<div class="hd" style="left:743px;top:48px;width:113px;height:41px;line-height:42px"><span>蓝采和</span></div>
<div class="hd" style="left:856px;top:48px;width:114px;height:41px;line-height:42px"><span>曹国舅</span></div>
<div class="st" style="left:179px;top:89px;width:113px;height:777px;background:#f2dcdb"></div>
<div class="st" style="left:405px;top:89px;width:112px;height:777px;background:#f2dcdb"></div>
<div class="st" style="left:630px;top:89px;width:113px;height:777px;background:#f2dcdb"></div>
<div class="st" style="left:856px;top:89px;width:114px;height:777px;background:#f2dcdb"></div>
<div class="c p" style="left:0;top:89px;width:66px;height:37px"><span>25022</span></div>
<div class="c" style="left:66px;top:89px;width:113px;height:37px"><span>35 74 20 67</span></div>
<div class="c" style="left:179px;top:89px;width:113px;height:37px"><span>28 11 39 32</span></div>
<div class="c" style="left:292px;top:89px;width:113px;height:37px"><span>37 25 61 05</span></div>
<div class="c" style="left:405px;top:89px;width:112px;height:37px"><span>78 48 01 70</span></div>
<div class="c" style="left:517px;top:89px;width:113px;height:37px"><span>49 34 59 76</span></div>
<div class="c" style="left:630px;top:89px;width:113px;height:37px"><span>22 26 68 30</span></div>
<div class="c" style="left:743px;top:89px;width:113px;height:37px"><span>16 55 79 54</span></div>
<div class="c" style="left:856px;top:89px;width:114px;height:37px"><span>30 12 77 75</span></div>
<div class="c p" style="left:0;top:126px;width:66px;height:37px"><span>25021</span></div>
<div class="c" style="left:66px;top:126px;width:113px;height:37px"><span>77 17 70 <i>13</i></span></div>
<div class="c" style="left:179px;top:126px;width:113px;height:37px"><span>34 78 17 <i>11</i></span></div>
<div class="c" style="left:292px;top:126px;width:113px;height:37px"><span><i>71</i> 16 70 12</span></div>
<div class="c" style="left:405px;top:126px;width:112px;height:37px"><span>24 <i>62</i> 58 36</span></div>
<div class="c" style="left:517px;top:126px;width:113px;height:37px"><span>70 26 49 <i>35</i></span></div>
<div class="c" style="left:630px;top:126px;width:113px;height:37px"><span>37 04 43 73</span></div>
<div class="c" style="left:743px;top:126px;width:113px;height:37px"><span>54 <i>47</i> 29 53</span></div>
<div class="c" style="left:856px;top:126px;width:114px;height:37px"><span>41 <i>65</i> 78 <i>08</i></span></div>
<div class="c p" style="left:0;top:163px;width:66px;height:37px"><span>25020</span></div>
<div class="c" style="left:66px;top:163px;width:113px;height:37px"><span>44 <i>78</i> 56 75</span></div>
<div class="c" style="left:179px;top:163px;width:113px;height:37px"><span><i>21</i> 74 <i>40</i> 62</span></div>
<div class="c" style="left:292px;top:163px;width:113px;height:37px"><span><i>61</i> 19 15 23</span></div>
<div class="c" style="left:405px;top:163px;width:112px;height:37px"><span><i>40</i> 55 25 24</span></div>
<div class="c" style="left:517px;top:163px;width:113px;height:37px"><span>47 72 <i>73</i> <i>43</i></span></div>
<div class="c" style="left:630px;top:163px;width:113px;height:37px"><span>76 53 38 04</span></div>
<div class="c" style="left:743px;top:163px;width:113px;height:37px"><span><i>67</i> 18 53 15</span></div>
<div class="c" style="left:856px;top:163px;width:114px;height:37px"><span>42 <i>21</i> 71 <i>41</i></span></div>
<div class="c p" style="left:0;top:200px;width:66px;height:37px"><span>25019</span></div>
<div class="c" style="left:66px;top:200px;width:113px;height:37px"><span>22 29 <i>70</i> 76</span></div>
<div class="c" style="left:179px;top:200px;width:113px;height:37px"><span><i>24</i> 04 69 35</span></div>
<div class="c" style="left:292px;top:200px;width:113px;height:37px"><span>01 54 08 73</span></div>
<div class="c" style="left:405px;top:200px;width:112px;height:37px"><span>28 <i>45</i> 56 73</span></div>
<div class="c" style="left:517px;top:200px;width:113px;height:37px"><span>75 29 30 74</span></div>
<div class="c" style="left:630px;top:200px;width:113px;height:37px"><span>38 63 59 <i>02</i></span></div>
<div class="c" style="left:743px;top:200px;width:113px;height:37px"><span>56 74 <i>53</i> <i>24</i></span></div>
<div class="c" style="left:856px;top:200px;width:114px;height:37px"><span>28 60 <i>53</i> 27</span></div>
<div class="c p" style="left:0;top:237px;width:66px;height:37px"><span>25018</span></div>
<div class="c" style="left:66px;top:237px;width:113px;height:37px"><span>20 26 <i>22</i> 36</span></div>
<div class="c" style="left:179px;top:237px;width:113px;height:37px"><span><i>13</i> 73 43 53</span></div>
<div class="c" style="left:292px;top:237px;width:113px;height:37px"><span>42 71 59 <i>13</i></span></div>
<div class="c" style="left:405px;top:237px;width:112px;height:37px"><span>58 66 39 27</span></div>
<div class="c" style="left:517px;top:237px;width:113px;height:37px"><span><i>28</i> 40 30 49</span></div>
<div class="c" style="left:630px;top:237px;width:113px;height:37px"><span>15 73 60 58</span></div>
<div class="c" style="left:743px;top:237px;width:113px;height:37px"><span>02 32 14 01</span></div>
<div class="c" style="left:856px;top:237px;width:114px;height:37px"><span><i>46</i> 58 64 53</span></div>
<div class="c p" style="left:0;top:274px;width:66px;height:37px"><span>25017</span></div>
<div class="c" style="left:66px;top:274px;width:113px;height:37px"><span><i>51</i> 29 28 08</span></div>
<div class="c" style="left:179px;top:274px;width:113px;height:37px"><span>29 <i>01</i> 38 50</span></div>
<div class="c" style="left:292px;top:274px;width:113px;height:37px"><span><i>07</i> 20 12 22</span></div>
<div class="c" style="left:405px;top:274px;width:112px;height:37px"><span>17 19 62 25</span></div>
<div class="c" style="left:517px;top:274px;width:113px;height:37px"><span><i>37</i> 29 <i>48</i> 57</span></div>
<div class="c" style="left:630px;top:274px;width:113px;height:37px"><span><i>48</i> <i>37</i> 68 25</span></div>
<div class="c" style="left:743px;top:274px;width:113px;height:37px"><span>72 <i>52</i> 15 <i>43</i></span></div>
<div class="c" style="left:856px;top:274px;width:114px;height:37px"><span>29 60 30 28</span></div>
<div class="c p" style="left:0;top:311px;width:66px;height:37px"><span>25016</span></div>
<div class="c" style="left:66px;top:311px;width:113px;height:37px"><span>21 <i>77</i> 70 28</span></div>
<div class="c" style="left:179px;top:311px;width:113px;height:37px"><span>51 20 64 65</span></div>
<div class="c" style="left:292px;top:311px;width:113px;height:37px"><span><i>19</i> <i>79</i> 59 54</span></div>
<div class="c" style="left:405px;top:311px;width:112px;height:37px"><span>66 06 75 50</span></div>
<div class="c" style="left:517px;top:311px;width:113px;height:37px"><span>61 42 <i>11</i> 14</span></div>
<div class="c" style="left:630px;top:311px;width:113px;height:37px"><span>09 24 54 72</span></div>
<div class="c" style="left:743px;top:311px;width:113px;height:37px"><span>67 06 66 36</span></div>
<div class="c" style="left:856px;top:311px;width:114px;height:37px"><span>63 <i>11</i> <i>02</i> 70</span></div>
<div class="c p" style="left:0;top:348px;width:66px;height:37px"><span>25015</span></div>
<div class="c" style="left:66px;top:348px;width:113px;height:37px"><span>35 07 <i>53</i> <i>58</i></span></div>
<div class="c" style="left:179px;top:348px;width:113px;height:37px"><span><i>53</i> 43 <i>38</i> 13</span></div>
<div class="c" style="left:292px;top:348px;width:113px;height:37px"><span>44 29 40 <i>16</i></span></div>
<div class="c" style="left:405px;top:348px;width:112px;height:37px"><span>08 33 24 09</span></div>
<div class="c" style="left:517px;top:348px;width:113px;height:37px"><span>24 20 13 79</span></div>
<div class="c" style="left:630px;top:348px;width:113px;height:37px"><span>49 20 25 31</span></div>
<div class="c" style="left:743px;top:348px;width:113px;height:37px"><span>35 29 15 57</span></div>
<div class="c" style="left:856px;top:348px;width:114px;height:37px"><span>36 <i>12</i> <i>11</i> 26</span></div>
<div class="c p" style="left:0;top:385px;width:66px;height:37px"><span>25014</span></div>
<div class="c" style="left:66px;top:385px;width:113px;height:37px"><span>22 <i>06</i> <i>17</i> 29</span></div>
<div class="c" style="left:179px;top:385px;width:113px;height:37px"><span>78 48 27 50</span></div>
<div class="c" style="left:292px;top:385px;width:113px;height:37px"><span><i>24</i> 52 02 <i>57</i></span></div>
<div class="c" style="left:405px;top:385px;width:112px;height:37px"><span>60 50 09 18</span></div>
<div class="c" style="left:517px;top:385px;width:113px;height:37px"><span>29 16 36 <i>17</i></span></div>
<div class="c" style="left:630px;top:385px;width:113px;height:37px"><span>05 15 70 43</span></div>
<div class="c" style="left:743px;top:385px;width:113px;height:37px"><span>21 29 43 <i>32</i></span></div>
<div class="c" style="left:856px;top:385px;width:114px;height:37px"><span>19 41 <i>46</i> 39</span></div>
<div class="c p" style="left:0;top:422px;width:66px;height:37px"><span>25013</span></div>
<div class="c" style="left:66px;top:422px;width:113px;height:37px"><span><i>38</i> 70 23 17</span></div>
<div class="c" style="left:179px;top:422px;width:113px;height:37px"><span><i>64</i> 30 47 <i>75</i></span></div>
<div class="c" style="left:292px;top:422px;width:113px;height:37px"><span><i>63</i> 31 <i>38</i> 37</span></div>
<div class="c" style="left:405px;top:422px;width:112px;height:37px"><span>36 20 19 <i>11</i></span></div>
<div class="c" style="left:517px;top:422px;width:113px;height:37px"><span>61 <i>35</i> 17 <i>03</i></span></div>
<div class="c" style="left:630px;top:422px;width:113px;height:37px"><span><i>49</i> <i>35</i> 33 54</span></div>
<div class="c" style="left:743px;top:422px;width:113px;height:37px"><span>25 54 44 <i>42</i></span></div>
<div class="c" style="left:856px;top:422px;width:114px;height:37px"><span><i>35</i> 29 34 <i>42</i></span></div>
<div class="c p" style="left:0;top:459px;width:66px;height:37px"><span>25012</span></div>
<div class="c" style="left:66px;top:459px;width:113px;height:37px"><span>77 30 21 39</span></div>
<div class="c" style="left:179px;top:459px;width:113px;height:37px"><span>14 26 71 <i>06</i></span></div>
<div class="c" style="left:292px;top:459px;width:113px;height:37px"><span><i>10</i> 26 <i>08</i> 27</span></div>
<div class="c" style="left:405px;top:459px;width:112px;height:37px"><span><i>06</i> 26 77 17</span></div>
<div class="c" style="left:517px;top:459px;width:113px;height:37px"><span>62 26 64 15</span></div>
<div class="c" style="left:630px;top:459px;width:113px;height:37px"><span>43 25 20 53</span></div>
<div class="c" style="left:743px;top:459px;width:113px;height:37px"><span><i>45</i> 49 34 71</span></div>
<div class="c" style="left:856px;top:459px;width:114px;height:37px"><span>36 49 62 76</span></div>
<div class="c p" style="left:0;top:496px;width:66px;height:37px"><span>25011</span></div>
<div class="c" style="left:66px;top:496px;width:113px;height:37px"><span>08 14 <i>77</i> 41</span></div>
<div class="c" style="left:179px;top:496px;width:113px;height:37px"><span>32 26 <i>25</i> 19</span></div>
<div class="c" style="left:292px;top:496px;width:113px;height:37px"><span>17 63 73 04</span></div>
<div class="c" style="left:405px;top:496px;width:112px;height:37px"><span>78 20 40 09</span></div>
<div class="c" style="left:517px;top:496px;width:113px;height:37px"><span>19 17 <i>70</i> 39</span></div>
<div class="c" style="left:630px;top:496px;width:113px;height:37px"><span><i>25</i> 13 <i>21</i> 17</span></div>
<div class="c" style="left:743px;top:496px;width:113px;height:37px"><span><i>50</i> 27 62 72</span></div>
<div class="c" style="left:856px;top:496px;width:114px;height:37px"><span>14 51 <i>57</i> 64</span></div>
<div class="c p" style="left:0;top:533px;width:66px;height:37px"><span>25010</span></div>
<div class="c" style="left:66px;top:533px;width:113px;height:37px"><span>40 39 <i>64</i> 06</span></div>
<div class="c" style="left:179px;top:533px;width:113px;height:37px"><span>05 58 75 51</span></div>
<div class="c" style="left:292px;top:533px;width:113px;height:37px"><span>77 <i>45</i> <i>46</i> 22</span></div>
<div class="c" style="left:405px;top:533px;width:112px;height:37px"><span>34 17 32 <i>67</i></span></div>
<div class="c" style="left:517px;top:533px;width:113px;height:37px"><span><i>67</i> <i>74</i> 69 29</span></div>
<div class="c" style="left:630px;top:533px;width:113px;height:37px"><span><i>67</i> 06 12 44</span></div>
<div class="c" style="left:743px;top:533px;width:113px;height:37px"><span><i>73</i> 17 29 14</span></div>
<div class="c" style="left:856px;top:533px;width:114px;height:37px"><span><i>09</i> 18 <i>53</i> 75</span></div>
<div class="c p" style="left:0;top:570px;width:66px;height:37px"><span>25009</span></div>
<div class="c" style="left:66px;top:570px;width:113px;height:37px"><span>72 <i>79</i> 18 02</span></div>
<div class="c" style="left:179px;top:570px;width:113px;height:37px"><span><i>60</i> <i>15</i> 64 29</span></div>
<div class="c" style="left:292px;top:570px;width:113px;height:37px"><span>23 07 31 65</span></div>
<div class="c" style="left:405px;top:570px;width:112px;height:37px"><span><i>34</i> 61 68 77</span></div>
<div class="c" style="left:517px;top:570px;width:113px;height:37px"><span>77 53 <i>27</i> <i>74</i></span></div>
<div class="c" style="left:630px;top:570px;width:113px;height:37px"><span>25 50 69 37</span></div>
<div class="c" style="left:743px;top:570px;width:113px;height:37px"><span><i>56</i> 50 38 02</span></div>
<div class="c" style="left:856px;top:570px;width:114px;height:37px"><span>80 63 65 <i>47</i></span></div>
<div class="c p" style="left:0;top:607px;width:66px;height:37px"><span>25008</span></div>
<div class="c" style="left:66px;top:607px;width:113px;height:37px"><span><i>77</i> <i>15</i> 41 38</span></div>
<div class="c" style="left:179px;top:607px;width:113px;height:37px"><span>05 <i>54</i> <i>75</i> <i>02</i></span></div>
<div class="c" style="left:292px;top:607px;width:113px;height:37px"><span><i>65</i> 24 22 <i>15</i></span></div>
<div class="c" style="left:405px;top:607px;width:112px;height:37px"><span>63 <i>07</i> 16 67</span></div>
<div class="c" style="left:517px;top:607px;width:113px;height:37px"><span><i>57</i> 20 52 42</span></div>
<div class="c" style="left:630px;top:607px;width:113px;height:37px"><span>68 34 09 <i>15</i></span></div>
<div class="c" style="left:743px;top:607px;width:113px;height:37px"><span>78 34 43 <i>54</i></span></div>
<div class="c" style="left:856px;top:607px;width:114px;height:37px"><span>59 23 04 <i>47</i></span></div>
<div class="c p" style="left:0;top:644px;width:66px;height:37px"><span>25007</span></div>
<div class="c" style="left:66px;top:644px;width:113px;height:37px"><span><i>18</i> 65 <i>53</i> 36</span></div>
<div class="c" style="left:179px;top:644px;width:113px;height:37px"><span>19 <i>69</i> 47 42</span></div>
<div class="c" style="left:292px;top:644px;width:113px;height:37px"><span><i>59</i> 13 38 78</span></div>
<div class="c" style="left:405px;top:644px;width:112px;height:37px"><span><i>51</i> 70 19 37</span></div>
<div class="c" style="left:517px;top:644px;width:113px;height:37px"><span>05 46 10 <i>69</i></span></div>
<div class="c" style="left:630px;top:644px;width:113px;height:37px"><span>63 <i>25</i> 26 03</span></div>
<div class="c" style="left:743px;top:644px;width:113px;height:37px"><span><i>67</i> 09 50 38</span></div>
<div class="c" style="left:856px;top:644px;width:114px;height:37px"><span>40 26 41 20</span></div>
<div class="c p" style="left:0;top:681px;width:66px;height:37px"><span>25006</span></div>
<div class="c" style="left:66px;top:681px;width:113px;height:37px"><span>68 <i>08</i> 26 39</span></div>
<div class="c" style="left:179px;top:681px;width:113px;height:37px"><span>23 03 <i>56</i> <i>19</i></span></div>
<div class="c" style="left:292px;top:681px;width:113px;height:37px"><span>57 28 36 17</span></div>
<div class="c" style="left:405px;top:681px;width:112px;height:37px"><span>29 <i>24</i> 38 11</span></div>
<div class="c" style="left:517px;top:681px;width:113px;height:37px"><span>38 54 28 <i>67</i></span></div>
<div class="c" style="left:630px;top:681px;width:113px;height:37px"><span><i>47</i> <i>31</i> 04 <i>19</i></span></div>
<div class="c" style="left:743px;top:681px;width:113px;height:37px"><span><i>35</i> <i>59</i> 45 09</span></div>
<div class="c" style="left:856px;top:681px;width:114px;height:37px"><span>80 39 30 <i>35</i></span></div>
<div class="c p" style="left:0;top:718px;width:66px;height:37px"><span>25005</span></div>
<div class="c" style="left:66px;top:718px;width:113px;height:37px"><span>54 77 24 53</span></div>
<div class="c" style="left:179px;top:718px;width:113px;height:37px"><span><i>60</i> 56 <i>64</i> 23</span></div>
<div class="c" style="left:292px;top:718px;width:113px;height:37px"><span><i>64</i> 23 53 75</span></div>
<div class="c" style="left:405px;top:718px;width:112px;height:37px"><span>68 42 <i>19</i> 71</span></div>
<div class="c" style="left:517px;top:718px;width:113px;height:37px"><span><i>22</i> 70 50 78</span></div>
<div class="c" style="left:630px;top:718px;width:113px;height:37px"><span><i>33</i> 44 63 75</span></div>
<div class="c" style="left:743px;top:718px;width:113px;height:37px"><span>34 35 <i>45</i> 69</span></div>
<div class="c" style="left:856px;top:718px;width:114px;height:37px"><span><i>14</i> 08 42 77</span></div>
<div class="c p" style="left:0;top:755px;width:66px;height:37px"><span>25004</span></div>
<div class="c" style="left:66px;top:755px;width:113px;height:37px"><span>69 63 52 11</span></div>
<div class="c" style="left:179px;top:755px;width:113px;height:37px"><span><i>75</i> 72 52 <i>35</i></span></div>
<div class="c" style="left:292px;top:755px;width:113px;height:37px"><span><i>26</i> <i>46</i> 20 13</span></div>
<div class="c" style="left:405px;top:755px;width:112px;height:37px"><span>60 76 <i>65</i> 29</span></div>
<div class="c" style="left:517px;top:755px;width:113px;height:37px"><span>61 <i>09</i> 63 23</span></div>
<div class="c" style="left:630px;top:755px;width:113px;height:37px"><span>59 60 34 54</span></div>
<div class="c" style="left:743px;top:755px;width:113px;height:37px"><span>38 19 20 <i>67</i></span></div>
<div class="c" style="left:856px;top:755px;width:114px;height:37px"><span><i>07</i> <i>73</i> <i>26</i> 19</span></div>
<div class="c p" style="left:0;top:792px;width:66px;height:37px"><span>25003</span></div>
<div class="c" style="left:66px;top:792px;width:113px;height:37px"><span>21 <i>43</i> <i>30</i> 52</span></div>
<div class="c" style="left:179px;top:792px;width:113px;height:37px"><span>14 56 <i>57</i> 04</span></div>
<div class="c" style="left:292px;top:792px;width:113px;height:37px"><span>16 <i>58</i> 56 21</span></div>
<div class="c" style="left:405px;top:792px;width:112px;height:37px"><span>41 01 36 <i>79</i></span></div>
<div class="c" style="left:517px;top:792px;width:113px;height:37px"><span>23 40 80 54</span></div>
<div class="c" style="left:630px;top:792px;width:113px;height:37px"><span>47 <i>60</i> 52 14</span></div>
<div class="c" style="left:743px;top:792px;width:113px;height:37px"><span><i>10</i> 08 73 <i>79</i></span></div>
<div class="c" style="left:856px;top:792px;width:114px;height:37px"><span>04 <i>43</i> 75 68</span></div>
<div class="c p" style="left:0;top:829px;width:66px;height:37px"><span>25002</span></div>
<div class="c" style="left:66px;top:829px;width:113px;height:37px"><span>38 44 76 <i>45</i></span></div>
<div class="c" style="left:179px;top:829px;width:113px;height:37px"><span><i>55</i> <i>49</i> 25 <i>09</i></span></div>
<div class="c" style="left:292px;top:829px;width:113px;height:37px"><span>10 72 48 44</span></div>
<div class="c" style="left:405px;top:829px;width:112px;height:37px"><span>51 67 <i>66</i> 30</span></div>
<div class="c" style="left:517px;top:829px;width:113px;height:37px"><span>18 <i>65</i> 80 52</span></div>
<div class="c" style="left:630px;top:829px;width:113px;height:37px"><span>77 <i>13</i> 50 03</span></div>
<div class="c" style="left:743px;top:829px;width:113px;height:37px"><span>38 80 <i>24</i> 75</span></div>
<div class="c" style="left:856px;top:829px;width:114px;height:37px"><span>51 <i>69</i> 52 19</span></div>
<div class="hl" style="top:48px;width:971px;box-shadow:0 1px 0 rgba(0,0,0,0.4)"></div>
<div class="hl in" style="top:89px;width:971px"></div>
<div class="hl in" style="top:126px;width:971px"></div>
<div class="hl in" style="top:163px;width:971px"></div>
<div class="hl in" style="top:200px;width:971px"></div>
<div class="hl in" style="top:237px;width:971px"></div>
<div class="hl in" style="top:274px;width:971px"></div>
<div class="hl in" style="top:311px;width:971px"></div>
<div class="hl in" style="top:348px;width:971px"></div>
<div class="hl in" style="top:385px;width:971px"></div>
<div class="hl in" style="top:422px;width:971px"></div>
<div class="hl in" style="top:459px;width:971px"></div>
<div class="hl in" style="top:496px;width:971px"></div>
<div class="hl in" style="top:533px;width:971px"></div>
<div class="hl in" style="top:570px;width:971px"></div>
<div class="hl in" style="top:607px;width:971px"></div>
<div class="hl in" style="top:644px;width:971px"></div>
<div class="hl in" style="top:681px;width:971px"></div>
<div class="hl in" style="top:718px;width:971px"></div>
<div class="hl in" style="top:755px;width:971px"></div>
<div class="hl in" style="top:792px;width:971px"></div>
<div class="hl in" style="top:829px;width:971px"></div>
<div class="hl" style="top:866px;width:971px"></div>
<div class="vl in" style="left:66px;top:48px;height:819px"></div>
<div class="vl in" style="left:179px;top:48px;height:819px"></div>
<div class="vl in" style="left:292px;top:48px;height:819px"></div>
<div class="vl in" style="left:405px;top:48px;height:819px"></div>
<div class="vl in" style="left:517px;top:48px;height:819px"></div>
<div class="vl in" style="left:630px;top:48px;height:819px"></div>
<div class="vl in" style="left:743px;top:48px;height:819px"></div>
<div class="vl in" style="left:856px;top:48px;height:819px"></div>
<div class="vl" style="left:970px;top:0;height:867px"></div>
</div>
<div class="tb t4" style="left:54px;top:2990px;width:972px;height:731px">
<div class="tt" style="left:0;top:0;width:971px;height:41px;line-height:41px"><span>八仙</span>20<span>大底汇总</span></div>
<div class="hd0" style="left:0;top:41px;width:54px;height:34px;line-height:35px"><span>期号</span></div>
<div class="hd" style="left:54px;top:41px;width:114px;height:34px;line-height:35px"><span>汉钟离</span></div>
<div class="hd" style="left:168px;top:41px;width:115px;height:34px;line-height:35px"><span>张果老</span></div>
<div class="hd" style="left:283px;top:41px;width:115px;height:34px;line-height:35px"><span>韩湘子</span></div>
<div class="hd" style="left:398px;top:41px;width:114px;height:34px;line-height:35px"><span>铁拐李</span></div>
<div class="hd" style="left:512px;top:41px;width:114px;height:34px;line-height:35px"><span>吕洞宾</span></div>
<div class="hd" style="left:626px;top:41px;width:115px;height:34px;line-height:35px"><span>何仙姑</span></div>
<div class="hd" style="left:741px;top:41px;width:115px;height:34px;line-height:35px"><span>蓝采和</span></div>
<div class="hd" style="left:856px;top:41px;width:115px;height:34px;line-height:35px"><span>曹国舅</span></div>
<div class="st" style="left:168px;top:75px;width:115px;height:655px;background:#ebf1de"></div>
<div class="st" style="left:398px;top:75px;width:114px;height:655px;background:#ebf1de"></div>
<div class="st" style="left:626px;top:75px;width:115px;height:655px;background:#ebf1de"></div>
<div class="st" style="left:856px;top:75px;width:115px;height:655px;background:#ebf1de"></div>
<div class="c p" style="left:0;top:75px;width:54px;height:82px"><span>25022</span></div>
<div class="c" style="left:54px;top:75px;width:114px;height:82px"><span>35 74 20 67 26<br>49 60 59 30 41<br>56 66 06 44 25<br>69 29 36 14 10</span></div>
<div class="c" style="left:168px;top:75px;width:115px;height:82px"><span>28 11 39 32 08<br>54 67 33 42 71<br>77 07 50 24 25<br>37 78 15 63 76</span></div>
<div class="c" style="left:283px;top:75px;width:115px;height:82px"><span>37 25 61 05 35<br>49 73 38 78 07<br>40 66 27 06 44<br>31 22 70 54 18</span></div>
<div class="c" style="left:398px;top:75px;width:114px;height:82px"><span>78 48 01 70 12<br>40 46 79 28 34<br>74 19 43 14 27<br>16 66 53 62 13</span></div>
<div class="c" style="left:512px;top:75px;width:114px;height:82px"><span>49 34 59 76 63<br>79 75 30 22 41<br>44 13 09 71 61<br>43 40 25 54 80</span></div>
<div class="c" style="left:626px;top:75px;width:115px;height:82px"><span>22 26 68 30 08<br>18 11 41 03 74<br>15 50 48 45 55<br>16 17 21 02 12</span></div>
<div class="c" style="left:741px;top:75px;width:115px;height:82px"><span>16 55 79 54 74<br>29 38 53 52 42<br>10 30 63 09 23<br>28 24 76 47 44</span></div>
<div class="c" style="left:856px;top:75px;width:115px;height:82px"><span>30 12 77 75 59<br>26 22 60 78 04<br>44 02 21 45 76<br>57 25 36 69 71</span></div>
<div class="c p" style="left:0;top:157px;width:54px;height:82px"><span>25021</span></div>
<div class="c" style="left:54px;top:157px;width:114px;height:82px"><span>77 17 70 <i>13</i> <i>47</i><br>59 09 29 69 <i>32</i><br><i>33</i> 41 39 <i>52</i> 78<br><i>11</i> 72 01 43 23</span></div>
<div class="c" style="left:168px;top:157px;width:115px;height:82px"><span>34 78 17 <i>11</i> 63<br>46 57 16 25 03<br>29 24 37 31 20<br>26 07 55 59 68</span></div>
<div class="c" style="left:283px;top:157px;width:115px;height:82px"><span><i>71</i> 16 70 12 29<br>25 60 78 46 20<br>05 72 <i>11</i> 03 58<br>51 07 34 22 57</span></div>
<div class="c" style="left:398px;top:157px;width:114px;height:82px"><span>24 <i>62</i> 58 36 15<br>21 <i>10</i> 60 49 <i>30</i><br>70 67 39 26 41<br>57 09 23 44 66</span></div>
<div class="c" style="left:512px;top:157px;width:114px;height:82px"><span>70 26 49 <i>35</i> 29<br>54 44 40 39 <i>06</i><br>36 74 66 <i>14</i> 04<br>17 60 75 <i>08</i> 20</span></div>
<div class="c" style="left:626px;top:157px;width:115px;height:82px"><span>37 04 43 73 42<br>12 67 18 16 19<br>46 22 49 31 05<br>40 <i>13</i> 45 75 02</span></div>
<div class="c" style="left:741px;top:157px;width:115px;height:82px"><span>54 <i>47</i> 29 53 <i>38</i><br>55 09 41 <i>30</i> 74<br>42 28 02 44 63<br><i>52</i> <i>76</i> 79 23 24</span></div>
<div class="c" style="left:856px;top:157px;width:115px;height:82px"><span>41 <i>65</i> 78 <i>08</i> 44<br>09 <i>32</i> 69 45 43<br>46 <i>56</i> 58 21 26<br>73 79 64 <i>71</i> 31</span></div>
<div class="c p" style="left:0;top:239px;width:54px;height:82px"><span>25020</span></div>
<div class="c" style="left:54px;top:239px;width:114px;height:82px"><span>44 <i>78</i> 56 75 74<br>49 <i>26</i> 70 10 <i>40</i><br>20 30 29 08 <i>14</i><br>69 66 71 <i>67</i> 36</span></div>
<div class="c" style="left:168px;top:239px;width:115px;height:82px"><span><i>21</i> 74 <i>40</i> 62 16<br>23 <i>02</i> 35 04 09<br>22 <i>43</i> 63 17 <i>45</i><br>32 <i>26</i> 30 46 69</span></div>
<div class="c" style="left:283px;top:239px;width:115px;height:82px"><span><i>61</i> 19 15 23 18<br>75 32 <i>73</i> 74 <i>37</i><br><i>14</i> 08 46 63 <i>21</i><br>10 80 <i>60</i> 49 25</span></div>
<div class="c" style="left:398px;top:239px;width:114px;height:82px"><span><i>40</i> 55 25 24 66<br>48 68 <i>21</i> 35 70<br>56 09 <i>61</i> 23 65<br>22 59 38 <i>57</i> 33</span></div>
<div class="c" style="left:512px;top:239px;width:114px;height:82px"><span>47 72 <i>73</i> <i>43</i> 09<br>33 <i>78</i> <i>45</i> 39 <i>57</i><br>52 17 77 23 29<br>70 42 69 32 <i>11</i></span></div>
<div class="c" style="left:626px;top:239px;width:115px;height:82px"><span>76 53 38 04 10<br>32 <i>37</i> 77 65 35<br><i>14</i> 08 55 <i>05</i> 59<br><i>67</i> <i>45</i> 74 <i>41</i> <i>11</i></span></div>
<div class="c" style="left:741px;top:239px;width:115px;height:82px"><span><i>67</i> 18 53 15 79<br>29 74 62 <i>50</i> <i>14</i><br>72 71 70 <i>40</i> 32<br>64 59 48 27 39</span></div>
<div class="c" style="left:856px;top:239px;width:115px;height:82px"><span>42 <i>21</i> 71 <i>41</i> <i>60</i><br>17 28 27 <i>61</i> 04<br>03 39 74 <i>05</i> <i>40</i><br>33 54 52 <i>67</i> 65</span></div>
<div class="c p" style="left:0;top:321px;width:54px;height:81px"><span>25019</span></div>
<div class="c" style="left:54px;top:321px;width:114px;height:81px"><span>22 29 <i>70</i> 76 14<br><i>50</i> 67 10 40 20<br>36 <i>71</i> 44 78 26<br>74 08 56 28 66</span></div>
<div class="c" style="left:168px;top:321px;width:115px;height:81px"><span><i>24</i> 04 69 35 57<br>58 17 <i>21</i> <i>12</i> 30<br>27 <i>79</i> 64 25 38<br>40 <i>16</i> 11 41 <i>18</i></span></div>
<div class="c" style="left:283px;top:321px;width:115px;height:81px"><span>01 54 08 73 56<br>25 05 39 07 22<br>11 66 67 <i>03</i> <i>68</i><br><i>12</i> <i>33</i> 30 <i>18</i> 14</span></div>
<div class="c" style="left:398px;top:321px;width:114px;height:81px"><span>28 <i>45</i> 56 73 75<br>39 27 74 04 <i>72</i><br>41 <i>55</i> <i>53</i> 34 <i>03</i><br>31 <i>79</i> 66 22 42</span></div>
<div class="c" style="left:512px;top:321px;width:114px;height:81px"><span>75 29 30 74 08<br>44 34 67 40 06<br>14 <i>24</i> 28 26 63<br>42 49 20 09 69</span></div>
<div class="c" style="left:626px;top:321px;width:115px;height:81px"><span>38 63 59 <i>02</i> 61<br><i>33</i> 17 20 <i>80</i> 43<br>44 31 <i>03</i> <i>24</i> 73<br>65 51 47 14 <i>16</i></span></div>
<div class="c" style="left:741px;top:321px;width:115px;height:81px"><span>56 74 <i>53</i> <i>24</i> 09<br>48 <i>21</i> 51 73 67<br>76 13 22 <i>70</i> 63<br>75 30 <i>33</i> 35 65</span></div>
<div class="c" style="left:856px;top:321px;width:115px;height:81px"><span>28 60 <i>53</i> 27 <i>70</i><br><i>16</i> 51 32 20 66<br>64 39 73 38 59<br><i>03</i> <i>24</i> <i>02</i> 40 05</span></div>
<div class="c p" style="left:0;top:402px;width:54px;height:82px"><span>25018</span></div>
<div class="c" style="left:54px;top:402px;width:114px;height:82px"><span>20 26 <i>22</i> 36 <i>76</i><br>56 <i>28</i> 66 78 70<br>40 71 14 10 29<br>51 67 61 08 74</span></div>
<div class="c" style="left:168px;top:402px;width:115px;height:82px"><span><i>13</i> 73 43 53 19<br>61 15 <i>31</i> 67 27<br>14 38 <i>52</i> <i>23</i> 25<br>65 39 <i>22</i> 36 18</span></div>
<div class="c" style="left:283px;top:402px;width:115px;height:82px"><span>42 71 59 <i>13</i> 01<br>06 <i>28</i> <i>48</i> 14 <i>76</i><br>04 36 11 69 <i>33</i><br>10 08 21 57 <i>31</i></span></div>
<div class="c" style="left:398px;top:402px;width:114px;height:82px"><span>58 66 39 27 61<br>32 56 67 14 <i>22</i><br>62 80 25 38 10<br>18 11 01 <i>55</i> <i>28</i></span></div>
<div class="c" style="left:512px;top:402px;width:114px;height:82px"><span><i>28</i> 40 30 49 29<br>69 51 14 42 <i>63</i><br>74 <i>09</i> <i>34</i> 20 26<br><i>37</i> 67 44 <i>24</i> 75</span></div>
<div class="c" style="left:626px;top:402px;width:115px;height:82px"><span>15 73 60 58 54<br><i>46</i> <i>09</i> 19 39 42<br><i>31</i> 80 11 <i>28</i> <i>33</i><br>68 38 78 56 27</span></div>
<div class="c" style="left:741px;top:402px;width:115px;height:82px"><span>02 32 14 01 44<br>18 26 51 41 <i>46</i><br>15 56 47 49 67<br><i>48</i> 17 06 69 <i>63</i></span></div>
<div class="c" style="left:856px;top:402px;width:115px;height:82px"><span><i>46</i> 58 64 53 08<br><i>31</i> <i>45</i> <i>34</i> 61 47<br>77 42 <i>23</i> 04 73<br>21 03 02 20 57</span></div>
<div class="c p" style="left:0;top:484px;width:54px;height:82px"><span>25017</span></div>
<div class="c" style="left:54px;top:484px;width:114px;height:82px"><span><i>51</i> 29 28 08 14<br>56 74 <i>80</i> 76 26<br>67 15 <i>48</i> 36 71<br>68 19 40 78 22</span></div>
<div class="c" style="left:168px;top:484px;width:115px;height:82px"><span>29 <i>01</i> 38 50 19<br>34 24 54 25 <i>32</i><br><i>47</i> 04 26 <i>64</i> 30<br>78 49 72 76 63</span></div>
<div class="c" style="left:283px;top:484px;width:115px;height:82px"><span><i>07</i> 20 12 22 <i>37</i><br><i>73</i> 23 <i>52</i> 55 57<br><i>27</i> 24 <i>64</i> 17 05<br>11 49 26 77 75</span></div>
<div class="c" style="left:398px;top:484px;width:114px;height:82px"><span>17 19 62 25 <i>80</i><br><i>01</i> 59 41 35 23<br>21 04 45 30 15<br>28 14 <i>61</i> 70 <i>64</i></span></div>
<div class="c" style="left:512px;top:484px;width:114px;height:82px"><span><i>37</i> 29 <i>48</i> 57 14<br><i>32</i> 40 09 34 42<br>28 15 69 26 68<br>79 30 75 49 44</span></div>
<div class="c" style="left:626px;top:484px;width:115px;height:82px"><span><i>48</i> <i>37</i> 68 25 71<br><i>43</i> 76 <i>13</i> 40 09<br>55 78 66 62 <i>07</i><br>23 <i>52</i> 15 19 17</span></div>
<div class="c" style="left:741px;top:484px;width:115px;height:82px"><span>72 <i>52</i> 15 <i>43</i> 77<br>49 <i>01</i> 20 <i>51</i> 54<br>70 59 50 29 21<br>04 11 23 17 35</span></div>
<div class="c" style="left:856px;top:484px;width:115px;height:82px"><span>29 60 30 28 40<br>04 66 06 25 79<br>67 17 02 15 57<br><i>48</i> 41 <i>03</i> 14 45</span></div>
<div class="c p" style="left:0;top:566px;width:54px;height:82px"><span>25016</span></div>
<div class="c" style="left:54px;top:566px;width:114px;height:82px"><span>21 <i>77</i> 70 28 67<br>18 13 50 39 <i>53</i><br>35 38 <i>16</i> 14 25<br>07 75 12 27 <i>79</i></span></div>
<div class="c" style="left:168px;top:566px;width:115px;height:82px"><span>51 20 64 65 73<br><i>01</i> <i>62</i> <i>55</i> <i>53</i> <i>80</i><br>26 27 31 35 <i>02</i><br>50 25 05 30 39</span></div>
<div class="c" style="left:283px;top:566px;width:115px;height:82px"><span><i>19</i> <i>79</i> 59 54 13<br>39 <i>11</i> 14 29 <i>57</i><br>09 22 66 51 <i>77</i><br>28 26 24 25 <i>23</i></span></div>
<div class="c" style="left:398px;top:566px;width:114px;height:82px"><span>66 06 75 50 05<br><i>19</i> 69 22 67 33<br>41 <i>46</i> <i>11</i> 20 09<br>30 26 <i>62</i> 28 35</span></div>
<div class="c" style="left:512px;top:566px;width:114px;height:82px"><span>61 42 <i>11</i> 14 40<br><i>15</i> <i>68</i> 75 <i>53</i> 03<br>71 30 <i>32</i> <i>80</i> <i>16</i><br>26 <i>62</i> 28 <i>79</i> 37</span></div>
<div class="c" style="left:626px;top:566px;width:115px;height:82px"><span>09 24 54 72 59<br>26 30 <i>79</i> 51 <i>02</i><br><i>77</i> 63 18 71 73<br>34 28 <i>48</i> 20 <i>01</i></span></div>
<div class="c" style="left:741px;top:566px;width:115px;height:82px"><span>67 06 66 36 39<br>13 17 51 <i>68</i> 31<br>33 59 27 65 78<br>76 <i>53</i> 41 08 37</span></div>
<div class="c" style="left:856px;top:566px;width:115px;height:82px"><span>63 <i>11</i> <i>02</i> 70 07<br>05 31 <i>16</i> 09 20<br>06 <i>62</i> 69 <i>43</i> 44<br>60 51 <i>48</i> 33 <i>80</i></span></div>
<div class="c p" style="left:0;top:648px;width:54px;height:82px"><span>25015</span></div>
<div class="c" style="left:54px;top:648px;width:114px;height:82px"><span>35 07 <i>53</i> <i>58</i> <i>16</i><br>28 13 54 70 67<br><i>12</i> 21 30 32 79<br>18 50 59 77 <i>38</i></span></div>
<div class="c" style="left:168px;top:648px;width:115px;height:82px"><span><i>53</i> 43 <i>38</i> 13 <i>52</i><br>50 15 69 <i>41</i> 73<br>27 14 17 08 18<br>20 45 <i>61</i> 70 39</span></div>
<div class="c" style="left:283px;top:648px;width:115px;height:82px"><span>44 29 40 <i>16</i> 15<br>13 <i>03</i> <i>01</i> <i>12</i> 63<br><i>56</i> 14 <i>71</i> 69 20<br><i>41</i> 67 45 04 46</span></div>
<div class="c" style="left:398px;top:648px;width:114px;height:82px"><span>08 33 24 09 70<br>59 36 14 69 54<br>49 25 65 29 <i>53</i><br>31 <i>72</i> <i>38</i> 22 57</span></div>
<div class="c" style="left:512px;top:648px;width:114px;height:82px"><span>24 20 13 79 74<br>70 60 02 <i>61</i> 36<br>17 <i>78</i> <i>71</i> 29 <i>76</i><br>67 15 54 31 <i>41</i></span></div>
<div class="c" style="left:626px;top:648px;width:115px;height:82px"><span>49 20 25 31 29<br>55 26 19 02 46<br>57 74 27 <i>72</i> 64<br><i>10</i> 17 21 51 <i>52</i></span></div>
<div class="c" style="left:741px;top:648px;width:115px;height:82px"><span>35 29 15 57 20<br>24 43 <i>71</i> 46 67<br><i>41</i> 19 39 42 <i>38</i><br><i>10</i> <i>53</i> 55 <i>76</i> 51</span></div>
<div class="c" style="left:856px;top:648px;width:115px;height:82px"><span>36 <i>12</i> <i>11</i> 26 45<br>57 48 <i>56</i> 20 75<br>25 68 <i>10</i> 42 21<br>49 14 <i>38</i> 30 <i>16</i></span></div>
<div class="hl" style="top:0px;width:972px;height:2px"></div>
<div class="hl" style="top:41px;width:972px;box-shadow:0 1px 0 rgba(0,0,0,0.4)"></div>
<div class="hl in" style="top:75px;width:972px"></div>
<div class="hl in" style="top:157px;width:972px"></div>
<div class="hl in" style="top:239px;width:972px"></div>
<div class="hl in" style="top:321px;width:972px"></div>
<div class="hl in" style="top:402px;width:972px"></div>
<div class="hl in" style="top:484px;width:972px"></div>
<div class="hl in" style="top:566px;width:972px"></div>
<div class="hl in" style="top:648px;width:972px"></div>
<div class="hl" style="top:730px;width:972px;height:2px;top:729px;background:#2a2a2a"></div>
<div class="vl" style="left:0;top:0;height:731px"></div>
<div class="vl in" style="left:54px;top:41px;height:690px"></div>
<div class="vl in" style="left:168px;top:41px;height:690px"></div>
<div class="vl in" style="left:283px;top:41px;height:690px"></div>
<div class="vl in" style="left:398px;top:41px;height:690px"></div>
<div class="vl in" style="left:512px;top:41px;height:690px"></div>
<div class="vl in" style="left:626px;top:41px;height:690px"></div>
<div class="vl in" style="left:741px;top:41px;height:690px"></div>
<div class="vl in" style="left:856px;top:41px;height:690px"></div>
<div class="vl" style="left:970px;top:0;height:731px;width:2px;background:#2a2a2a"></div>
</div>
<div class="sb"></div><div class="foot"><div><span>免责声明：以上信息不作为任何推荐，仅供彩民的</span></div><div><span>娱乐参考！文章属于原创，未经授权不得转载！公</span></div><div><span>益体彩，乐善人生！</span></div></div>
</body></html>
